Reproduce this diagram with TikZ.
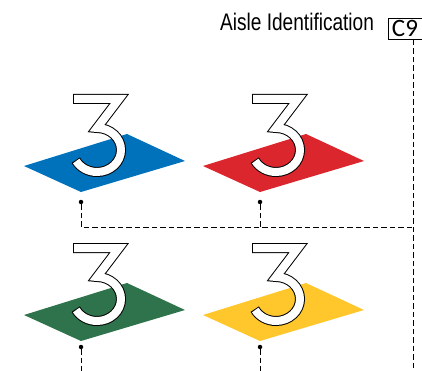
\documentclass[tikz,border=0pt]{standalone}
\usepackage{fontspec}
\setmainfont{Liberation Sans}
\newfontfamily\narrowsf[FakeStretch=0.795]{Liberation Sans}
\newfontfamily\boxsf{Carlito}
\definecolor{padblue}{RGB}{0,114,188}
\definecolor{padred}{RGB}{220,38,46}
\definecolor{padgreen}{RGB}{46,115,76}
\definecolor{padyellow}{RGB}{255,199,44}

\begin{document}
\begin{tikzpicture}[x=1pt,y=-1pt,
  link/.style={dash pattern=on 5.5pt off 3pt, line width=0.9pt},
  pin/.style={circle, fill, inner sep=0pt, minimum size=4.5pt}]
\useasboundingbox (0,0) rectangle (422,371);
\foreach\dx/\dy/\c in {0/0/padblue, 179/0/padred, 0/149/padgreen, 179/149/padyellow}{
\begin{scope}[shift={(\dx,\dy)}]
\fill[\c] (24,166)--(127,134)--(185,161)--(81,192)--cycle;
\draw[line width=10pt] (73,99)--(119,99)--(97,128) arc[start angle=-90, end angle=152.5, x radius=24, y radius=22];
\draw[white, line width=8pt] (74,99)--(119,99)--(97,128) arc[start angle=-90, end angle=150, x radius=24, y radius=22];
\end{scope}}
\node[anchor=base west, inner sep=0pt] (title) at (220,31) {\narrowsf\fontsize{24}{29}\selectfont Aisle Identification};
\node[draw, line width=0.9pt, anchor=north west, minimum height=21pt, text width=32pt, inner xsep=3.5pt, inner ysep=0pt] (c9) at (388,18) {\boxsf\fontsize{25}{29}\selectfont C9};
\node[pin] (pb) at (81,202) {};
\node[pin] (pr) at (260,202) {};
\node[pin] (pg) at (81,347) {};
\node[pin] (py) at (260,347) {};
\coordinate (jr) at (413,227);
\coordinate (vb) at (413,371);
\draw[link] (c9.south -| jr) -- (vb);
\draw[link] (pb) |- (jr);
\draw[link] (pr) -- (pr |- jr);
\draw[link] (pg) -- (pg |- vb);
\draw[link] (py) -- (py |- vb);
\end{tikzpicture}
\end{document}
